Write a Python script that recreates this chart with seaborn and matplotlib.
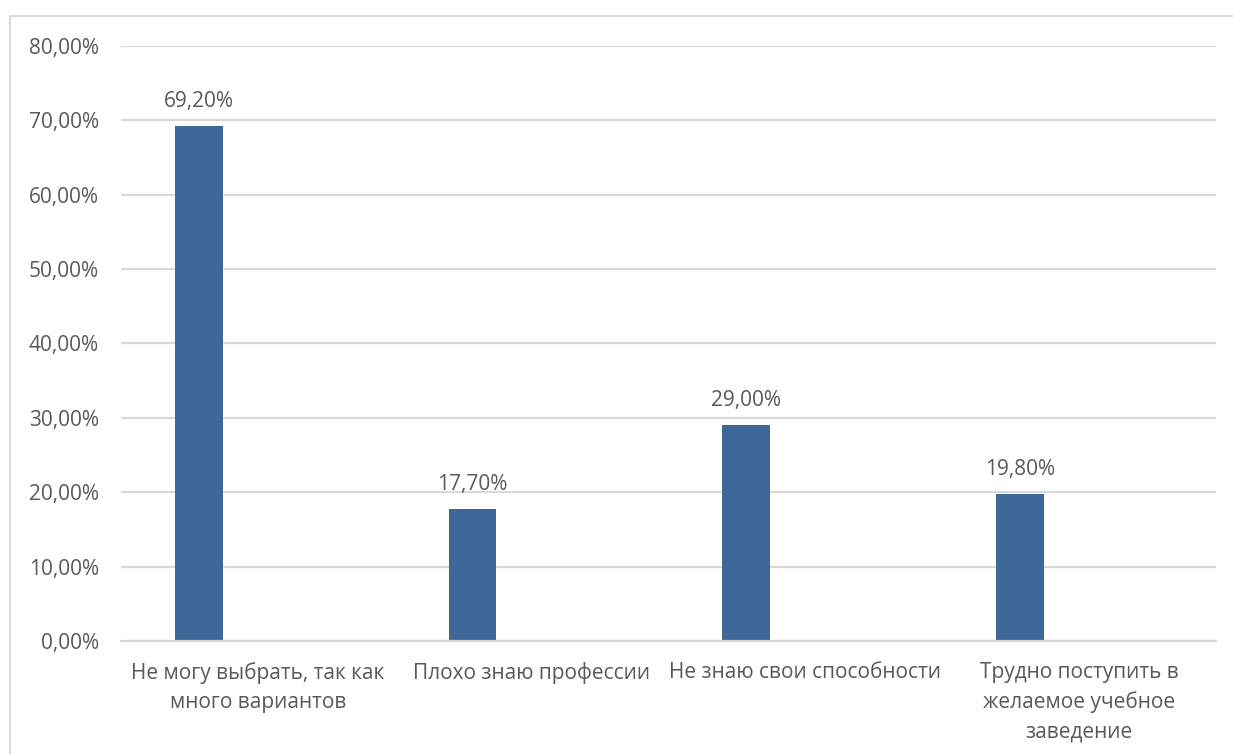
import pandas as pd
import seaborn as sns
import matplotlib.pyplot as plt
from matplotlib.patches import Rectangle

categories = [
    "Не могу выбрать, так как\nмного вариантов",
    "Плохо знаю профессии",
    "Не знаю свои способности",
    "Трудно поступить в\nжелаемое учебное\nзаведение",
]
values = [0.692, 0.177, 0.290, 0.198]
y_ticks = [0.0, 0.1, 0.2, 0.3, 0.4, 0.5, 0.6, 0.7, 0.8]

bar_color = "#3F6898"
text_color = "#595959"
grid_color = "#D9D9D9"

df = pd.DataFrame({"Причина": categories, "Доля": values})

sns.set_theme(style="white")
plt.rcParams['font.family'] = ['Open Sans', 'DejaVu Sans']

fig = plt.figure(figsize=(12.33, 7.54), dpi=100)
ax = fig.add_axes([0.0981, 0.1499, 0.8881, 0.7891])

sns.barplot(data=df, x="Причина", y="Доля", color=bar_color, width=0.175,
            saturation=1, ax=ax)

# Excel leaves room for an empty second series, so bars sit left of centre
shift = -0.216
for p in ax.patches:
    p.set_x(p.get_x() + shift)
    p.set_edgecolor("none")
    ax.annotate(f"{p.get_height() * 100:.2f}%".replace(".", ","),
                (p.get_x() + p.get_width() / 2, p.get_height()),
                xytext=(0, 10), textcoords="offset points",
                ha="center", va="bottom", fontsize=15, color=text_color)

ax.set_xlim(-0.5, len(categories) - 0.5)
ax.set_ylim(0, 0.8)
ax.set_yticks(y_ticks)
ax.set_yticklabels([f"{t * 100:.2f}%".replace(".", ",") for t in y_ticks])
ax.yaxis.grid(True, color=grid_color, linewidth=1.6)
ax.set_axisbelow(True)
for s in ax.spines.values():
    s.set_visible(False)
ax.spines["bottom"].set_visible(True)
ax.spines["bottom"].set_color(grid_color)
ax.spines["bottom"].set_linewidth(1.6)

ax.tick_params(axis="both", length=0, labelsize=15, colors=text_color)
ax.tick_params(axis="x", pad=15)
ax.tick_params(axis="y", pad=16)
for lbl in ax.get_xticklabels():
    lbl.set_linespacing(1.5)
ax.set_xlabel("")
ax.set_ylabel("")

# chart area border (partly cut off in the screenshot)
fig.patches.append(Rectangle((10 / 1233, -0.05), 1.1, 1 - 16 / 754 + 0.05,
                             transform=fig.transFigure, fill=False,
                             edgecolor=grid_color, linewidth=1.5))

fig.savefig("out.png", dpi=100)
